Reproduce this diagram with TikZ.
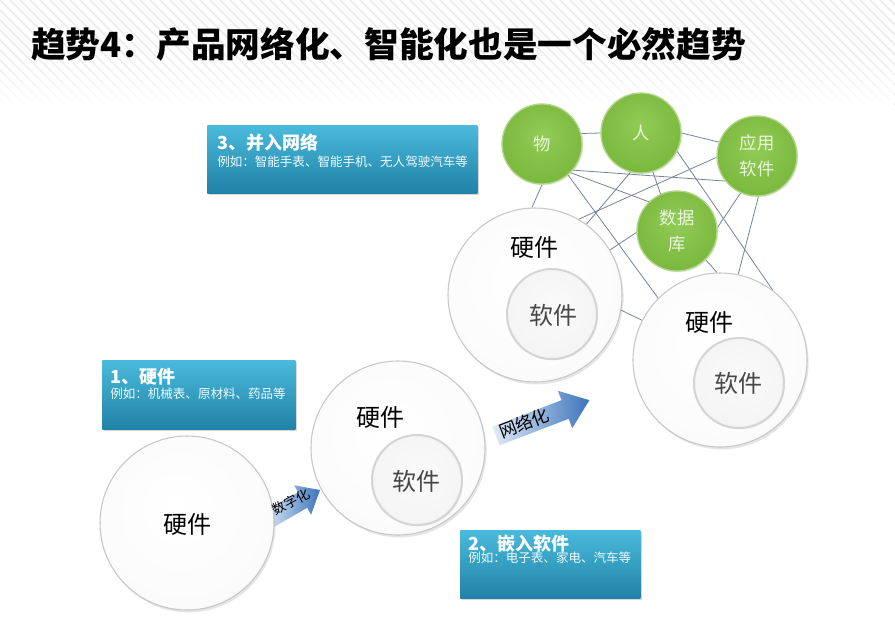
\documentclass[tikz,border=0pt]{standalone}
\usepackage{fontspec}
\setmainfont{Noto Sans CJK SC}
\usetikzlibrary{shadows,fadings}

\pgfdeclarelayer{bg}
\pgfsetlayers{bg,main}

\pgfdeclareradialshading{bigsh}{\pgfpoint{-3bp}{5bp}}{rgb(0bp)=(1,1,1); rgb(26bp)=(0.985,0.985,0.985); rgb(42bp)=(0.925,0.925,0.925); rgb(50bp)=(0.84,0.84,0.84)}
\pgfdeclareradialshading{smallsh}{\pgfpoint{2bp}{4bp}}{rgb(0bp)=(0.98,0.98,0.98); rgb(36bp)=(0.95,0.95,0.95); rgb(50bp)=(0.89,0.89,0.89)}
\pgfdeclareradialshading{greensh}{\pgfpoint{0bp}{6bp}}{rgb(0bp)=(0.57,0.80,0.34); rgb(28bp)=(0.48,0.72,0.24); rgb(44bp)=(0.37,0.61,0.15); rgb(50bp)=(0.44,0.67,0.22)}

\definecolor{boxtop}{RGB}{74,186,220}
\definecolor{boxbot}{RGB}{32,130,166}
\definecolor{edgec}{RGB}{118,132,150}
\definecolor{grim}{RGB}{178,214,138}
\definecolor{gtext}{RGB}{236,246,222}
\definecolor{arrowb}{RGB}{60,116,188}
\definecolor{arrowl}{RGB}{226,236,248}

\tikzset{
  bigc/.style={circle, minimum size=130.5pt, inner sep=0pt, shading=bigsh, draw=black!22, line width=0.8pt,
    drop shadow={opacity=0.2, shadow xshift=1.2pt, shadow yshift=-1.8pt}},
  smallc/.style={circle, minimum size=67.5pt, inner sep=0pt, shading=smallsh, draw=black!17, line width=1.5pt,
    drop shadow={opacity=0.12, shadow xshift=0.8pt, shadow yshift=-1pt}},
  greenc/.style={circle, minimum size=60pt, inner sep=0pt, shading=greensh, draw=grim, line width=1pt,
    text=gtext, font=\fontsize{13}{19.5}\selectfont, align=center,
    drop shadow={opacity=0.15, shadow xshift=1pt, shadow yshift=-1pt}},
  infobox/.style={rectangle, inner sep=0pt, anchor=north west, top color=boxtop, bottom color=boxbot, draw=none,
    drop shadow={opacity=0.3, shadow xshift=1.5pt, shadow yshift=-1.5pt}},
  boxtitle/.style={anchor=west, inner sep=0pt, text=white, font=\bfseries\fontsize{13.5}{16}\selectfont},
  boxsub/.style={anchor=west, inner sep=0pt, text=white!94!cyan, font=\fontsize{9.4}{11}\selectfont},
  hwtext/.style={inner sep=0pt, font=\fontsize{18}{20}\selectfont, text=black},
  swtext/.style={inner sep=0pt, font=\fontsize{18}{20}\selectfont, text=black!72},
  link/.style={draw=edgec, line width=0.6pt},
  arrowtext/.style={inner sep=0pt, text=black},
  blockarrow/.style={left color=arrowl, right color=arrowb, draw=none},
}

\begin{document}
\begin{tikzpicture}[x=0.75pt,y=-0.75pt]
\useasboundingbox (0,0) rectangle (895,619);

% background with stripes
\begin{pgfonlayer}{bg}
\fill[white] (0,0) rectangle (895,619);
\begin{scope}
\clip (0,0) rectangle (895,106);
\foreach \k in {-120,-110,...,900} \draw[black!8, line width=1.3pt] (\k,0) -- ++(110,110);
\end{scope}
\fill[white, path fading=north] (0,50) rectangle (895,107);
\end{pgfonlayer}

% title
\node[anchor=west, inner sep=0pt, font=\bfseries\fontsize{26}{30}\selectfont] (title) at (31,44)
  {趋势4：产品网络化、智能化也是一个必然趋势};

% block arrows
\begin{scope}[shift={(268,520)}, rotate=30]
  \shade[blockarrow] (0,-9) -- (40,-9) -- (40,-17) -- (60,0) -- (40,17) -- (40,9) -- (0,9) -- cycle;
\end{scope}
\begin{scope}[shift={(496,436)}, rotate=21]
  \shade[blockarrow] (0,-10) -- (74,-10) -- (74,-20) -- (100,0) -- (74,20) -- (74,10) -- (0,10) -- cycle;
\end{scope}

% big circles
\node[bigc] (h1) at (187,523) {};
\node[bigc] (h2) at (398,448) {};
\node[bigc] (h3) at (535,295) {};
\node[bigc] (h4) at (720,360) {};

% inner circles
\node[smallc] (s2) at (417,480) {};
\node[smallc] (s3) at (552,314) {};
\node[smallc] (s4) at (739,383) {};

% circle labels
\node[hwtext] (h1t) at (187,524) {硬件};
\node[hwtext] (h2t) at (380,417) {硬件};
\node[hwtext] (h3t) at (534,247) {硬件};
\node[hwtext] (h4t) at (709,322) {硬件};
\node[swtext] (s2t) at (416,481) {软件};
\node[swtext] (s3t) at (553,315) {软件};
\node[swtext] (s4t) at (738,383) {软件};

% green circles
\node[greenc] (wu) at (542,144) {物};
\node[greenc] (ren) at (641,133) {人};
\node[greenc] (app) at (757,156) {应用\\软件};
\node[greenc] (db) at (677,231) {数据\\库};

% arrow labels
\node[arrowtext, rotate=28, font=\fontsize{10}{12}\selectfont] (digi) at (291,502) {数字化};
\node[arrowtext, rotate=21, font=\fontsize{13}{15}\selectfont] (netw) at (524,423) {网络化};

% info boxes
\node[infobox, minimum width=202.5pt, minimum height=51pt] (b3) at (207,125) {};
\node[boxtitle] (b3t) at (217,143) {3、并入网络};
\node[boxsub] (b3s) at (217,162) {例如：智能手表、智能手机、无人驾驶汽车等};

\node[infobox, minimum width=144.75pt, minimum height=51.75pt] (b1) at (102,360) {};
\node[boxtitle] (b1t) at (110,377) {1、硬件};
\node[boxsub] (b1s) at (110,394) {例如：机械表、原材料、药品等};

\node[infobox, minimum width=135pt, minimum height=51pt] (b2) at (460,530) {};
\node[boxtitle] (b2t) at (468,544) {2、嵌入软件};
\node[boxsub] (b2s) at (468,558) {例如：电子表、家电、汽车等};

% network links (behind)
\begin{pgfonlayer}{bg}
\draw[link] (wu.15) -- (ren.180);
\draw[link] (ren.0) -- (app.160);
\draw[link] (wu.-40) -- (app.-142);
\draw[link] (wu.-45) -- (db.134);
\draw[link] (wu.-50) -- (h4.135);
\draw[link] (wu.-90) -- (h3.92);
\draw[link] (ren.-105) -- (h3.54);
\draw[link] (app.182) -- (h3.60);
\draw[link] (ren.-73) -- (db.114);
\draw[link] (db.182) -- (h3.31);
\draw[link] (app.-114) -- (db.5);
\draw[link] (app.-88) -- (h4.78);
\draw[link] (db.-45) -- (h4.92);
\draw[link] (ren.-27) -- (h4.53);
\draw[link] (h3.-10) -- (h4.153);
\end{pgfonlayer}
\end{tikzpicture}
\end{document}
